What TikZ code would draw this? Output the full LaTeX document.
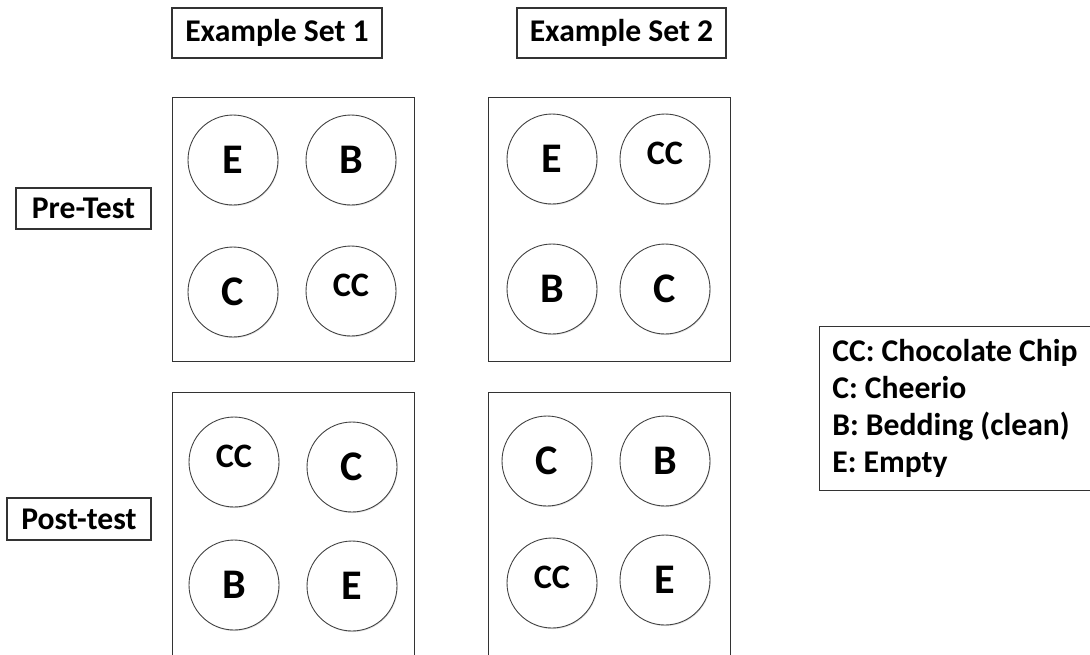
\documentclass[tikz,border=0pt]{standalone}
\usepackage{fontspec}
\setmainfont{Carlito}
\usetikzlibrary{shadows}

\begin{document}
\frenchspacing
\begin{tikzpicture}[x=0.02cm,y=-0.02cm,
	tag/.style={draw=black!80,line width=0.6pt,fill=white,inner sep=0,font=\bfseries\fontsize{18}{21}\selectfont},
	panel/.style={draw=black!80,line width=0.6pt,fill=white,inner sep=0,minimum width=4.84cm,anchor=north west},
	cup/.style={draw=black!75,line width=0.5pt,circle,fill=white,inner sep=0,minimum size=1.8cm,
		drop shadow={opacity=0.25,shadow xshift=0.4pt,shadow yshift=-0.6pt},font=\bfseries\fontsize{24}{27}\selectfont},
	cc/.style={font=\bfseries\fontsize{19.5}{22}\selectfont,text depth=0.22cm}]
	\useasboundingbox (0,0) rectangle (1090,654);
	% column and row headings
	\node[tag,minimum width=4.2cm,minimum height=1cm] (set1) at (277,33) {Example Set 1};
	\node[tag,minimum width=4.18cm,minimum height=1cm] (set2) at (621.5,33) {Example Set 2};
	\node[tag,minimum width=2.7cm,minimum height=0.82cm] (pre) at (83.5,208.5) {Pre-Test};
	\node[tag,minimum width=2.88cm,minimum height=0.84cm] (post) at (79,519) {Post-test};
	% the four trays
	\node[panel,minimum height=5.28cm] (pre1) at (172,97) {};
	\node[panel,minimum height=5.28cm] (pre2) at (488,97) {};
	\node[panel,minimum height=5.5cm] (post1) at (172,392) {};
	\node[panel,minimum height=5.5cm] (post2) at (488,392) {};
	% cups, set 1
	\node[cup] (a1) at (233,160) {E};
	\node[cup] (a2) at (351,160) {B};
	\node[cup] (a3) at (233,292) {C};
	\node[cup,cc] (a4) at (351,291) {CC};
	\node[cup,cc] (b1) at (234,462) {CC};
	\node[cup] (b2) at (352,467) {C};
	\node[cup] (b3) at (234,585) {B};
	\node[cup] (b4) at (352,586) {E};
	% cups, set 2
	\node[cup] (c1) at (552,159) {E};
	\node[cup,cc] (c2) at (665,159) {CC};
	\node[cup] (c3) at (552,289) {B};
	\node[cup] (c4) at (665,289) {C};
	\node[cup] (d1) at (547,461) {C};
	\node[cup] (d2) at (665,461) {B};
	\node[cup,cc] (d3) at (552,583) {CC};
	\node[cup] (d4) at (665,580) {E};
	% key
	\node[draw=black!80,line width=0.6pt,anchor=north west,inner sep=0,minimum width=5.6cm,
		minimum height=3.28cm] (key) at (819,326) {};
	\node[anchor=west,align=left,inner sep=0,font=\bfseries\fontsize{18}{21}\selectfont] (keytext)
		at ([xshift=0.26cm]key.west) {CC: Chocolate Chip\\C: Cheerio\\B: Bedding (clean)\\E: Empty};
\end{tikzpicture}
\end{document}
